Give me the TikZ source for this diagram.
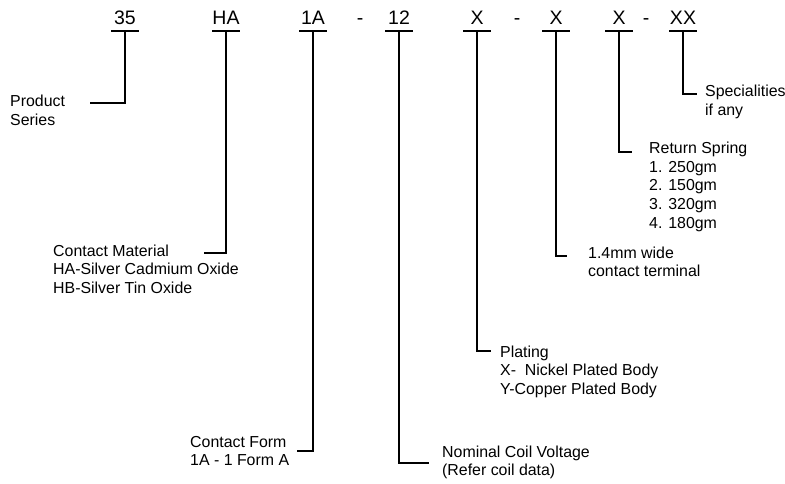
\documentclass[tikz,border=0pt]{standalone}
\usepackage{fontspec}
\setmainfont{Liberation Sans}

\begin{document}
\begin{tikzpicture}
[every node/.style={inner sep=0pt},
 code/.style={minimum width=27pt, inner ysep=6.5pt, text depth=0pt, anchor=south, font=\fontsize{19.5}{22}\selectfont},
 hyphen/.style={anchor=base, font=\fontsize{19.5}{22}\selectfont},
 note/.style={anchor=base west, align=left, font=\fontsize{15.9}{18.5}\selectfont},
 lead/.style={line width=2pt, color=black}]
\useasboundingbox (0pt, 0pt) rectangle (785pt, -484pt);
% part number
\node (c35) [code] at (125pt, -31pt) {35};
\node (cHA) [code] at (226pt, -31pt) {HA};
\node (c1A) [code] at (313pt, -31pt) {1A};
\node (d1) [hyphen] at (360pt, -24.5pt) {-};
\node (c12) [code] at (399pt, -31pt) {12};
\node (cPl) [code] at (477pt, -31pt) {X};
\node (d2) [hyphen] at (517pt, -24.5pt) {-};
\node (cTe) [code] at (556pt, -31pt) {X};
\node (cSp) [code] at (619pt, -31pt) {X};
\node (d3) [hyphen] at (646pt, -24.5pt) {-};
\node (cXX) [code] at (683pt, -31pt) {XX};
% descriptions (placed by the baseline of their last line)
\node (n35) [note] at (10pt, -125.5pt) {Product\\Series};
\node (nHA) [note] at (53pt, -293pt) {Contact Material\\HA-Silver Cadmium Oxide\\HB-Silver Tin Oxide};
\node (n1A) [note] at (190pt, -465.5pt) {Contact Form\\1A - 1 Form A};
\node (n12) [note] at (442pt, -475.5pt) {Nominal Coil Voltage\\(Refer coil data)};
\node (nPl) [note] at (500pt, -394pt) {Plating\\X-~ Nickel Plated Body\\Y-Copper Plated Body};
\node (nTe) [note] at (588pt, -276.5pt) {1.4mm wide\\contact terminal};
\node (nSp) [note] at (649pt, -228pt) {Return Spring\\1. 250gm\\2. 150gm\\3. 320gm\\4. 180gm};
\node (nXX) [note] at (705pt, -115.5pt) {Specialities\\if any};
% leader ends
\coordinate (e35) at (90pt, -103pt);
\coordinate (eHA) at (204pt, -253pt);
\coordinate (e1A) at (297pt, -451pt);
\coordinate (e12) at (429pt, -463pt);
\coordinate (ePl) at (491pt, -351pt);
\coordinate (eTe) at (567pt, -256pt);
\coordinate (eSp) at (632pt, -152pt);
\coordinate (eXX) at (697pt, -94pt);
\foreach \p in {35, HA, 1A, 12, Pl, Te, Sp, XX} {
  \draw [lead] (c\p.south west) -- (c\p.south east);
  \draw [lead] (c\p.south) |- (e\p);
}
\end{tikzpicture}
\end{document}
